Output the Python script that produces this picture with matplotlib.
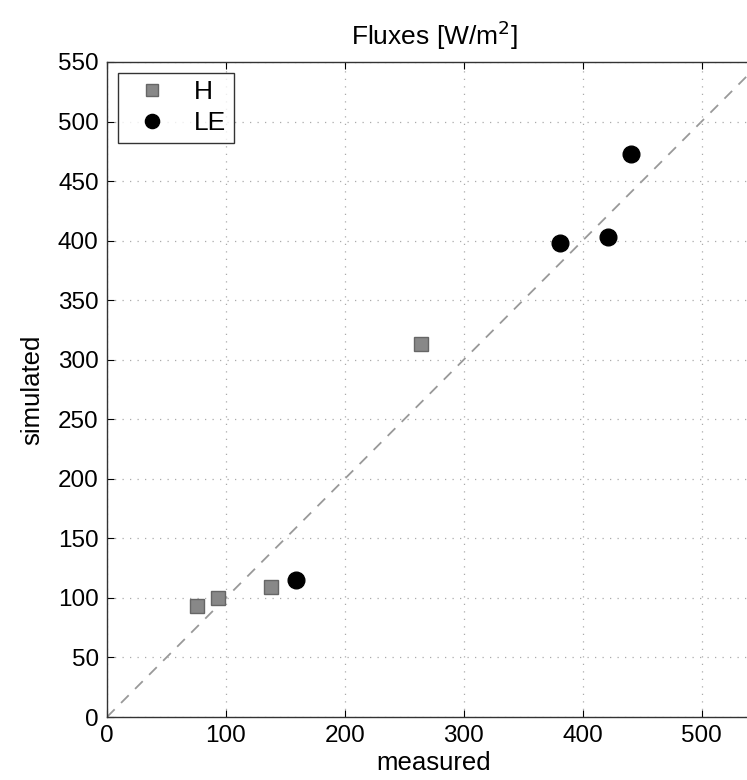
import matplotlib.pyplot as plt

# --- Data --------------------------------------------------------------------
h_measured = [76, 93, 138, 264]
h_simulated = [93, 100, 109, 313]
le_measured = [159, 381, 421, 441]
le_simulated = [115, 398, 403, 473]
x_ticks = [0, 100, 200, 300, 400, 500]
y_ticks = list(range(0, 551, 50))
# -----------------------------------------------------------------------------

plt.rcParams["font.family"] = ["Liberation Sans", "DejaVu Sans"]

fig = plt.figure(figsize=(7.47, 7.8), dpi=100)
# axes runs past the right edge of the figure, like the cropped original
ax = fig.add_axes([107 / 747, 63 / 780, 654 / 747, 655 / 780])

ax.plot([0, 550], [0, 550], linestyle=(0, (6, 5)), color="#999999", linewidth=1.3, zorder=1)
ax.plot(h_measured, h_simulated, linestyle="none", marker="s", markersize=10.5,
        markerfacecolor="#888888", markeredgecolor="#666666", markeredgewidth=1.0,
        label="H", zorder=3)
ax.plot(le_measured, le_simulated, linestyle="none", marker="o", markersize=12,
        markerfacecolor="black", markeredgecolor="black", label="LE", zorder=3)

ax.set_xlim(0, 550)
ax.set_ylim(0, 550)
ax.set_xticks(x_ticks)
ax.set_yticks(y_ticks)
ax.tick_params(direction="in", labelsize=17.5, top=True, right=False, length=5,
               width=0.8)
ax.tick_params(axis="y", pad=6)
ax.tick_params(axis="x", pad=6)
ax.grid(True, linestyle=(0, (1, 5)), color="#aaaaaa", linewidth=0.9)
for side in ("left", "bottom", "top"):
    ax.spines[side].set_linewidth(1.0)
    ax.spines[side].set_color("#333333")

ax.set_xlabel("measured", fontsize=18.5, labelpad=2.5)
ax.set_ylabel("simulated", fontsize=18.5, labelpad=10)
ax.set_title("Fluxes [W/m$^2$]", fontsize=19, pad=12)

leg = ax.legend(loc="upper left", fontsize=19, frameon=True, fancybox=False,
                edgecolor="black", borderaxespad=0.4, handletextpad=0.6,
                borderpad=0.3, labelspacing=0.25, markerscale=0.85)
leg.get_frame().set_linewidth(1.0)

fig.savefig("out.png", dpi=100)
